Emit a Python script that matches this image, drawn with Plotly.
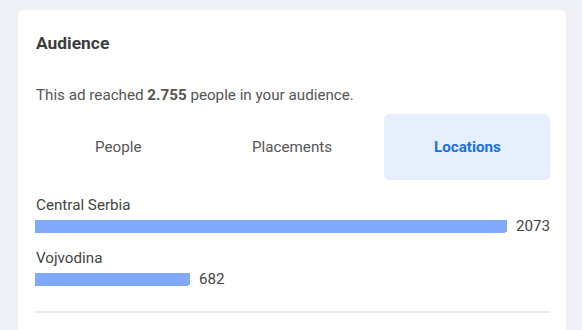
import plotly.graph_objects as go

W, H = 582, 330

regions = ["Central Serbia", "Vojvodina"]
reach = [2073, 682]
tabs = ["People", "Placements", "Locations"]
total_reached = "2.755"

def px(x):
    return x / W

def py(y):
    return 1 - y / H

def rounded_rect(x0, y0, x1, y1, r):
    X0, X1 = px(x0), px(x1)
    Y0, Y1 = py(y0), py(y1)
    rx, ry = r / W, r / H
    return (f"M{X0+rx},{Y0} L{X1-rx},{Y0} Q{X1},{Y0} {X1},{Y0-ry} "
            f"L{X1},{Y1+ry} Q{X1},{Y1} {X1-rx},{Y1} L{X0+rx},{Y1} "
            f"Q{X0},{Y1} {X0},{Y1+ry} L{X0},{Y0-ry} Q{X0},{Y0} {X0+rx},{Y0} Z")

FONT = "Roboto, 'Open Sans', sans-serif"

fig = go.Figure()
fig.add_trace(go.Bar(
    x=reach, y=regions, orientation="h",
    marker=dict(color="#80a9fb", cornerradius=2, line=dict(width=0)),
    width=0.245, hoverinfo="skip", cliponaxis=False,
))

ann = []
ann.append(dict(x=px(33.5), y=py(43), xref="paper", yref="paper", xanchor="left", yanchor="middle",
                text="<b>Audience</b>", showarrow=False,
                font=dict(family=FONT, size=17.4, color="#3d3d3d")))
ann.append(dict(x=px(33.5), y=py(95), xref="paper", yref="paper", xanchor="left", yanchor="middle",
                text=f"This ad reached <b>{total_reached}</b> people in your audience.", showarrow=False,
                font=dict(family=FONT, size=15.2, color="#555555")))
tab_x = [118, 292, 467]
for t, xc in zip(tabs, tab_x):
    active = t == "Locations"
    ann.append(dict(x=px(xc), y=py(147), xref="paper", yref="paper", xanchor="center", yanchor="middle",
                    text=f"<b>{t}</b>" if active else t, showarrow=False,
                    font=dict(family=FONT, size=15.2, color="#1b6fe4" if active else "#555555")))
for r, v in zip(regions, reach):
    ann.append(dict(x=0, y=r, xref="x", yref="y", xanchor="left", yanchor="middle",
                    xshift=-1.5, yshift=21, text=r, showarrow=False,
                    font=dict(family=FONT, size=15.2, color="#444444")))
    ann.append(dict(x=v, y=r, xref="x", yref="y", xanchor="left", yanchor="middle",
                    xshift=7, yshift=0, text=str(v), showarrow=False,
                    font=dict(family=FONT, size=15.2, color="#444444")))

shapes = [
    dict(type="path", path=rounded_rect(17, 9, 567, 360, 8), xref="paper", yref="paper",
         fillcolor="#ffffff", line=dict(color="#e8e9ed", width=1), layer="below"),
    dict(type="path", path=rounded_rect(384, 114, 550, 180, 6), xref="paper", yref="paper",
         fillcolor="#e6effc", line=dict(width=0), layer="below"),
    dict(type="line", x0=px(35), x1=px(550), y0=py(312), y1=py(312), xref="paper", yref="paper",
         line=dict(color="#d4d4d6", width=1)),
]

fig.update_layout(
    width=W, height=H, margin=dict(l=0, r=0, t=0, b=0),
    paper_bgcolor="#eff0f5", plot_bgcolor="rgba(0,0,0,0)",
    showlegend=False, annotations=ann, shapes=shapes,
    xaxis=dict(domain=[px(35), px(507)], range=[0, max(reach)], showgrid=False, zeroline=False,
               showticklabels=False, showline=False, fixedrange=True),
    yaxis=dict(domain=[py(306), py(199.5)], range=[1.5, -0.5], type="category", showgrid=False,
               zeroline=False, showticklabels=False, showline=False, fixedrange=True),
    bargap=0,
)

fig.write_html("out.html", config={"displayModeBar": False})
